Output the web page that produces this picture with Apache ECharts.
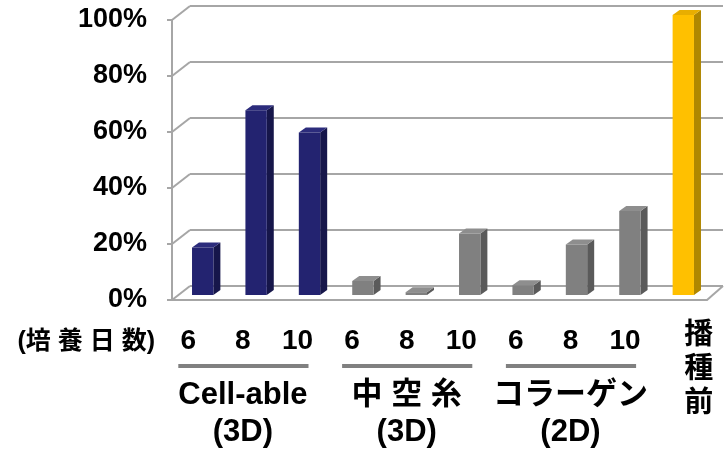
<!DOCTYPE html>
<html><head><meta charset="utf-8">
<script src="https://cdn.jsdelivr.net/npm/echarts@6/dist/echarts.min.js"></script>
<style>html,body{margin:0;padding:0;background:#fff}#c{width:725px;height:451px}</style>
</head><body><div id="c"></div>
<script>
// ---- data ----
const dayLabels = ['6', '8', '10', '6', '8', '10', '6', '8', '10', '播\n種\n前'];
const values = [17, 66, 58, 5, 1, 22, 3.5, 18, 30, 100];
const barKinds = ['cell', 'cell', 'cell', 'gray', 'gray', 'gray', 'gray', 'gray', 'gray', 'pre'];
const groupNames = ['Cell-able\n(3D)', '中 空 糸\n(3D)', 'コラーゲン\n(2D)'];
const groupCenters = [1, 4, 7];
const yTicks = [0, 20, 40, 60, 80, 100];
const axisTitle = '(培 養 日 数)';

// ---- styles ----
const FONT = '"Liberation Sans", Arial, "Noto Sans CJK JP", sans-serif';
const palette = {
  cell: { front: '#232370', side: '#16164A', top: '#2C2C7C' },
  gray: { front: '#808080', side: '#5A5A5A', top: '#8E8E8E' },
  pre:  { front: '#FFC000', side: '#B08700', top: '#E8AE00' }
};
const lineColor = '#A6A6A6';

const chart = echarts.init(document.getElementById('c'));

function renderBar(params, api) {
  const i = api.value(0), v = api.value(1);
  const top = api.coord([i, v]);
  const base = api.coord([i, 0]);
  const bw = api.size([1, 0])[0] * 0.4;
  const d = 7, h = 5;
  const x0 = top[0] - bw / 2, x1 = top[0] + bw / 2;
  const c = palette[barKinds[params.dataIndex]];
  return {
    type: 'group', children: [
      { type: 'polygon', shape: { points: [[x1, top[1]], [x1 + d, top[1] - h], [x1 + d, base[1] - h], [x1, base[1]]] }, style: { fill: c.side } },
      { type: 'polygon', shape: { points: [[x0, top[1]], [x0 + d, top[1] - h], [x1 + d, top[1] - h], [x1, top[1]]] }, style: { fill: c.top } },
      { type: 'rect', shape: { x: x0, y: top[1], width: bw, height: base[1] - top[1] }, style: { fill: c.front } }
    ]
  };
}

function renderDiag(params, api) {
  const v = api.value(1);
  const p = api.coord([0, v]);
  const children = [
    { type: 'line', shape: { x1: p[0] - 18, y1: p[1] + 14, x2: p[0], y2: p[1] }, style: { stroke: lineColor, lineWidth: 2 } }
  ];
  if (v === 0) {
    const q = api.coord([1, 0]);
    children.push({ type: 'line', shape: { x1: q[0] - 16, y1: q[1] + 14, x2: q[0], y2: q[1] }, style: { stroke: lineColor, lineWidth: 2 } });
  }
  return { type: 'group', children };
}

function renderUnderline(params, api) {
  const c = api.value(0);
  const a = api.coord([c - 1, 0]);
  const b = api.coord([c + 1, 0]);
  const y = a[1] + 67;
  return { type: 'line', shape: { x1: a[0] - 10, y1: y, x2: b[0] + 11, y2: y }, style: { stroke: '#808080', lineWidth: 4 } };
}

const option = {
  animation: false,
  backgroundColor: '#fff',
  grid: [
    { left: 172, top: 20, width: 535, height: 280 },  // front axis
    { left: 190, top: 6, width: 533, height: 280 },   // back wall
    { left: 176, top: 15, width: 534, height: 280 },  // bars
    { left: 161, top: 20, width: 546, height: 280 }   // labels
  ],
  xAxis: [
    { gridIndex: 0, type: 'category', position: 'bottom', data: dayLabels, axisLine: { lineStyle: { color: lineColor, width: 2 } }, axisTick: { show: false }, axisLabel: { show: false } },
    { gridIndex: 1, type: 'value', min: 0, max: 1, show: false },
    { gridIndex: 2, type: 'category', data: dayLabels, show: false },
    { gridIndex: 3, type: 'category', position: 'bottom', offset: 0, data: dayLabels, axisLine: { show: false }, axisTick: { show: false },
      name: axisTitle, nameLocation: 'start', nameGap: 6,
      nameTextStyle: { fontFamily: FONT, fontWeight: 'bold', fontSize: 25, color: '#000', verticalAlign: 'top', padding: [31, 0, 0, 0] },
      axisLabel: { interval: 0, margin: 28, fontFamily: FONT, fontWeight: 'bold', fontSize: 28, color: '#000',
        formatter: (val, idx) => idx === dayLabels.length - 1 ? '' : val } },
    { gridIndex: 3, type: 'category', position: 'bottom', offset: 0, data: dayLabels, axisLine: { show: false }, axisTick: { show: false },
      axisLabel: { interval: 0, margin: 78, fontFamily: FONT, fontWeight: 'bold', fontSize: 31, lineHeight: 37, color: '#000',
        formatter: (val, idx) => { const g = groupCenters.indexOf(idx); return g >= 0 ? groupNames[g] : ''; } } },
    { gridIndex: 3, type: 'category', position: 'bottom', offset: 0, data: dayLabels, axisLine: { show: false }, axisTick: { show: false },
      axisLabel: { interval: 0, margin: 20, fontFamily: FONT, fontWeight: 'bold', fontSize: 29, lineHeight: 34, color: '#000',
        padding: [0, 0, 0, 38],
        formatter: (val, idx) => idx === dayLabels.length - 1 ? val : '' } }
  ],
  yAxis: [
    { gridIndex: 0, type: 'value', min: 0, max: 100, interval: 20,
      axisLine: { show: true, lineStyle: { color: lineColor, width: 2 } },
      axisTick: { show: true, length: 5, lineStyle: { color: lineColor, width: 2 } },
      splitLine: { show: false },
      axisLabel: { margin: 25, fontFamily: FONT, fontWeight: 'bold', fontSize: 27, color: '#000', formatter: '{value}%' } },
    { gridIndex: 1, type: 'value', min: 0, max: 100, interval: 20, axisLine: { show: false }, axisTick: { show: false }, axisLabel: { show: false },
      splitLine: { show: true, lineStyle: { color: lineColor, width: 2 } } },
    { gridIndex: 2, type: 'value', min: 0, max: 100, show: false },
    { gridIndex: 3, type: 'value', min: 0, max: 1, show: false }
  ],
  series: [
    { type: 'custom', xAxisIndex: 1, yAxisIndex: 1, renderItem: renderDiag, data: yTicks.map(v => [0, v]), silent: true, z: 1 },
    { type: 'custom', xAxisIndex: 2, yAxisIndex: 2, renderItem: renderBar, data: values.map((v, i) => [i, v]), z: 3 },
    { type: 'custom', xAxisIndex: 3, yAxisIndex: 3, renderItem: renderUnderline, data: groupCenters.map(c => [c, 0]), silent: true, z: 2 }
  ]
};
chart.setOption(option);
</script>
</body></html>
